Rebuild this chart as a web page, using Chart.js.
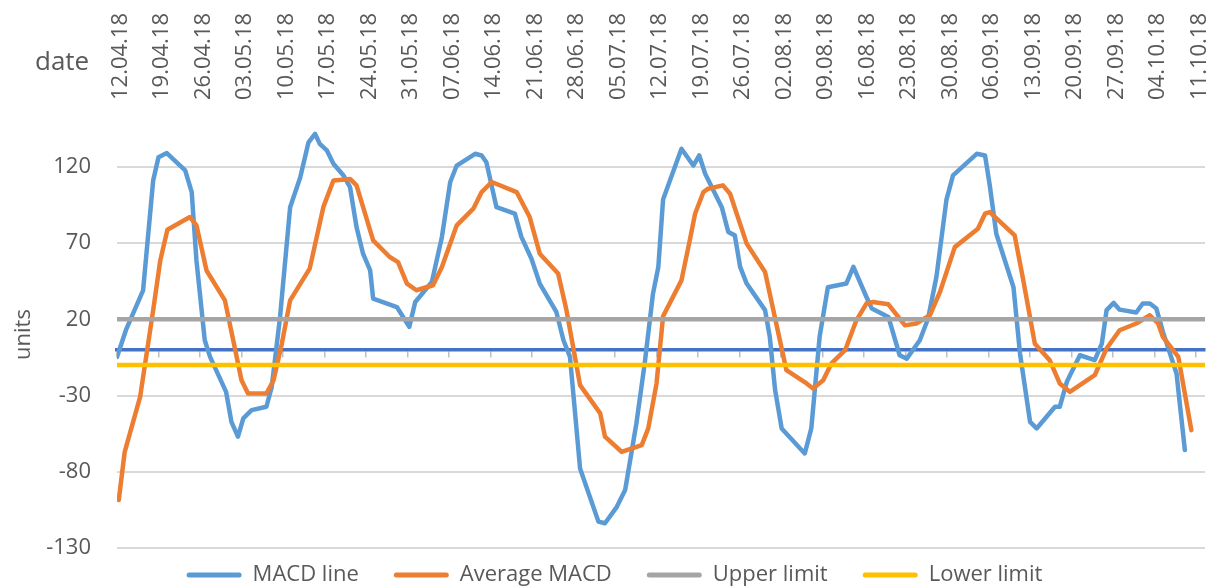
<!DOCTYPE html>
<html>
<head>
<meta charset="utf-8">
<script src="https://cdn.jsdelivr.net/npm/chart.js@4.4.1/dist/chart.umd.min.js"></script>
<style>
  html, body { margin: 0; padding: 0; background: #fff; }
  #wrap { width: 1213px; height: 588px; position: relative; }
</style>
</head>
<body>
<div id="wrap"><canvas id="macdChart"></canvas></div>
<script>
// week labels on the top axis (one every 7 days, day 0 = 12.04.18)
const weekLabels = ['12.04.18', '19.04.18', '26.04.18', '03.05.18', '10.05.18', '17.05.18', '24.05.18',
    '31.05.18', '07.06.18', '14.06.18', '21.06.18', '28.06.18', '05.07.18', '12.07.18', '19.07.18',
    '26.07.18', '02.08.18', '09.08.18', '16.08.18', '23.08.18', '30.08.18', '06.09.18', '13.09.18',
    '20.09.18', '27.09.18', '04.10.18', '11.10.18'];
const yTicks = [-130, -80, -30, 20, 70, 120];

// MACD line: day offset from 12.04.18 and value
const macdDays = [0, 1.5, 4.4, 6.1, 7, 8.4, 11.5, 12.6, 13.4, 14.8, 15.7, 18.4, 19.3, 20.4, 21.3, 22.7,
    25.2, 26.1, 27.5, 29.2, 30.9, 32.3, 33.4, 34.2, 35.4, 36.5, 38.2, 39.3, 40.4, 41.5, 42.7, 43.2,
    47.2, 49.3, 50.3, 53.1, 54.8, 56.2, 57.3, 60.4, 61.5, 62.3, 64, 67.1, 68.2, 69.9, 71.3, 74.1,
    75.3, 76.4, 78.1, 81.2, 82.3, 84.3, 85.7, 87.6, 89, 90.4, 91.3, 92.1, 95.2, 97.2, 98.2, 99.2,
    102, 103.1, 104.2, 105.1, 106.2, 109.3, 110.1, 111, 112.1, 116, 117.1, 118.5, 119.9, 123, 124.2,
    126.4, 127.3, 130.1, 132, 133.2, 135.4, 136.8, 138.2, 139.9, 141, 145, 146.4, 147.2, 148.3,
    151.2, 152.3, 154, 155.1, 158.2, 159, 160.2, 162.4, 164.9, 166.1, 166.9, 168.1, 169.1, 171.9,
    173, 174.2, 175.3, 176.4, 178.7, 180.1];
const macdValues = [-4.7, 12.8, 39, 111, 126.3, 129, 117.6, 103.4, 58.6, 6.2, -4.7, -27.6, -47.3, -57, -45, -39.6,
    -37.4, -24.3, 21.5, 93.5, 113, 136, 141.6, 135, 130.7, 122, 114.3, 106.6, 80.4, 63, 52, 33.6,
    28, 15, 31.3, 44.4, 74, 110, 120.8, 128.5, 127.4, 123, 93.5, 89.2, 74, 59.7, 43.4, 24.8,
    6.2, -4.7, -77.8, -112.7, -113.8, -103, -92, -48.3, -9, 36.8, 54.3, 98.5, 131.8, 120.8, 127.4, 115.4,
    93.5, 77.2, 75, 54.3, 43.4, 26, 8.4, -26.5, -51.6, -68, -51.6, 8.4, 41, 43.4, 54.3,
    34.6, 27, 21.5, -3.6, -5.8, 6.2, 20.5, 47.7, 98.5, 114.3, 128.5, 127.4, 107.8, 76.1,
    41, -2.5, -47.3, -51.6, -37.4, -37.4, -21, -3.6, -6.8, 4, 26, 30.7, 26.3, 24.4,
    30.3, 30.3, 27, 11.7, -15.6, -65.8];

// Average MACD
const avgDays = [0.3, 1.3, 3.9, 6.1, 7.3, 8.5, 12.3, 13.4, 15.1, 18.2, 21, 22.1, 25.2, 26.4, 27.8, 29.2,
    32.5, 34.8, 36.5, 39.3, 40.4, 43.2, 46, 47.4, 48.9, 50.5, 53.3, 54.8, 57.3, 60.1, 61.5, 63.2,
    67.4, 69.6, 71.3, 74.4, 75.8, 78.1, 81.5, 82.3, 85.1, 88.5, 89.6, 91, 92.1, 95.2, 96.6, 97.5,
    98.9, 99.7, 102.2, 103.4, 106.2, 109.3, 112.9, 116.3, 117.4, 119.1, 120.5, 122.8, 124.7, 126.4,
    127.5, 130.1, 132.9, 134.8, 137.1, 138.8, 141.3, 145.2, 146.4, 147.2, 151.4, 152.8, 154.8, 157.3,
    159, 160.7, 164.9, 166.9, 169.1, 171.9, 174.2, 175.6, 176.4, 179, 181.2];
const avgValues = [-98.5, -66.9, -30.9, 25.9, 58.6, 78.7, 87, 81.6, 52, 32.4, -20, -28.7, -28.7, -20, 4, 32.4,
    53.2, 93.5, 111, 112, 107.8, 71.7, 60.8, 57.5, 43.4, 39, 42.3, 54.3, 81.6, 92.5, 103.4, 110,
    103.4, 87, 63, 50, 26, -23.2, -41.7, -57, -66.9, -62.5, -51.6, -22, 22, 45.5, 71.7, 89.2,
    103.4, 105.6, 107.8, 102.3, 69.6, 51, -13.4, -22.1, -25.4, -20, -9, -0.3, 19.3, 30.3,
    31.3, 29.8, 16, 17.2, 22.6, 37.9, 67.3, 79.4, 89.2, 90.3, 75, 46.6, 4, -6.8,
    -22.1, -27.6, -16.7, 0.8, 12.8, 17.2, 22.6, 17.2, 8.4, -4.7, -52.7];

// limits across the whole period
const limitDays = [0, 183.5];
const upperLimit = [20, 20];
const lowerLimit = [-10, -10];

const textColor = '#595959';
const fontFamily = '"Open Sans", sans-serif';

function points(days, values) {
    return days.map((d, i) => ({ x: d, y: values[i] }));
}

function weekTicks(scale) {
    scale.ticks = weekLabels.map((_, i) => ({ value: i * 7 }));
}

function lineSet(label, data, color, order) {
    return {
        label: label,
        data: data,
        borderColor: color,
        backgroundColor: color,
        borderWidth: 4.5,
        borderCapStyle: 'round',
        borderJoinStyle: 'round',
        pointRadius: 0,
        tension: 0,
        order: order
    };
}

// "date" caption next to the top axis
const dateCaption = {
    id: 'dateCaption',
    afterDraw(chart) {
        const ctx = chart.ctx;
        ctx.save();
        ctx.font = '26px ' + fontFamily;
        ctx.fillStyle = textColor;
        ctx.textAlign = 'left';
        ctx.textBaseline = 'alphabetic';
        ctx.fillText('date', 35, 70);
        ctx.restore();
    }
};

// keep the legend strip short so the plot reaches down to y=548
const legendStrip = {
    id: 'legendStrip',
    beforeLayout(chart) {
        const lg = chart.legend;
        if (lg && !lg._shortFit) {
            const fit = lg.fit.bind(lg);
            lg.fit = function () {
                fit();
                this.height = 40;
            };
            lg._shortFit = true;
        }
    },
    afterLayout(chart) {
        const lg = chart.legend;
        if (lg) {
            // move the items up, keep the box bottom at the canvas edge
            lg.top -= 19;
            lg.height += 19;
            lg.left += 12;
            lg.right += 12;
        }
    }
};

new Chart(document.getElementById('macdChart'), {
    type: 'line',
    data: {
        datasets: [
            lineSet('MACD line', points(macdDays, macdValues), '#5B9BD5', 3),
            lineSet('Average MACD', points(avgDays, avgValues), '#ED7D31', 2),
            lineSet('Upper limit', points(limitDays, upperLimit), '#A5A5A5', 1),
            lineSet('Lower limit', points(limitDays, lowerLimit), '#FFC000', 0)
        ]
    },
    options: {
        responsive: true,
        maintainAspectRatio: false,
        animation: false,
        layout: { padding: { left: 0, right: 8, top: 0, bottom: 0 } },
        plugins: {
            tooltip: { enabled: false },
            legend: {
                position: 'bottom',
                labels: {
                    font: { family: fontFamily, size: 22 },
                    color: textColor,
                    boxWidth: 55,
                    boxHeight: 5,
                    padding: 35,
                    useBorderRadius: true,
                    borderRadius: 2.5,
                    sort: (a, b) => a.datasetIndex - b.datasetIndex,
                    generateLabels(chart) {
                        return Chart.defaults.plugins.legend.labels.generateLabels(chart)
                            .map(l => Object.assign(l, { lineWidth: 0, fillStyle: l.strokeStyle }));
                    }
                }
            }
        },
        scales: {
            x: {
                type: 'linear',
                position: 'top',
                min: 0,
                max: 183.5,
                afterBuildTicks: weekTicks,
                afterFit(scale) { scale.height = 121; },
                grid: { display: false },
                border: { display: false },
                ticks: {
                    autoSkip: false,
                    minRotation: 90,
                    maxRotation: 90,
                    padding: 13,
                    labelOffset: 30,
                    color: textColor,
                    font: { family: fontFamily, size: 22 },
                    callback: (v) => weekLabels[Math.round(v / 7)]
                }
            },
            x0: {
                type: 'linear',
                position: { y: 0 },
                min: 0,
                max: 183.5,
                afterBuildTicks: weekTicks,
                grid: { drawOnChartArea: false, drawTicks: true, tickLength: 6, color: '#BFBFBF', lineWidth: 1.5 },
                border: { color: '#4472C4', width: 3.5 },
                ticks: { display: false }
            },
            y: {
                min: -130,
                max: 150,
                afterBuildTicks(scale) { scale.ticks = yTicks.map(v => ({ value: v })); },
                afterFit(scale) { scale.width = 117; },
                grid: { color: '#D9D9D9', lineWidth: 2, drawTicks: false },
                border: { display: false },
                ticks: {
                    padding: 26,
                    color: textColor,
                    font: { family: fontFamily, size: 22 }
                },
                title: {
                    display: true,
                    text: 'units',
                    color: textColor,
                    font: { family: fontFamily, size: 22 },
                    padding: { top: 11, bottom: 0 }
                }
            }
        }
    },
    plugins: [dateCaption, legendStrip]
});
</script>
</body>
</html>
